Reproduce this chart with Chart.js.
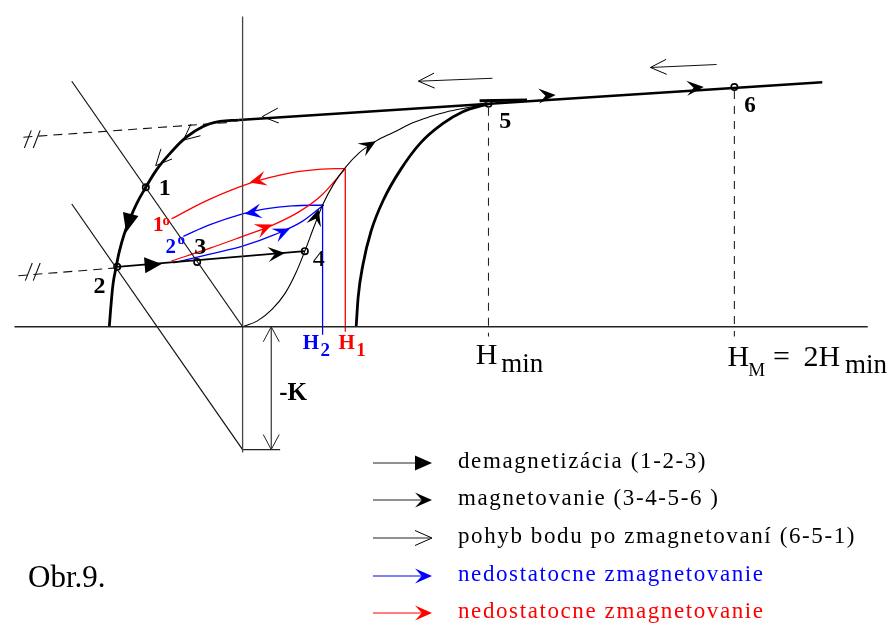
<!DOCTYPE html>
<html>
<head>
<meta charset="utf-8">
<script src="https://cdn.jsdelivr.net/npm/chart.js@4.4.1/dist/chart.umd.min.js"></script>
<style>
  body { margin: 0; background: #fff; }
  canvas { display: block; }
</style>
</head>
<body>
<canvas id="obr9" width="896" height="628"></canvas>
<script>
// H (x) a B (y), pociatok v priesecniku osi
const osH = [[-231, 0], [633, 0]];
const osB = [[0, 316], [0, -128]];
const pataK = [[0, -125], [38, -125]];
const kotaK = [[29, 0], [29, -125]];

const priamka1 = [[-173, 250], [0, 0]];
const priamka2 = [[-173, 125], [0, -125]];

const hornaCiarkovana = [[-222, 193], [-14, 208]];
const dolnaCiarkovana = [[-227, 52], [-127, 60]];
const lomitka = [
  [[-221, 182], [-214, 200]], [[-212, 182], [-205, 200]],
  [[-220, 47], [-213, 65]], [[-212, 47], [-205, 65]]
];

// hlavna slucka
const hornaVetva = [[-4, 210.5], [587, 249]];
const lavaVetva = [[-4, 210.5], [-23, 209], [-40, 204], [-57, 193], [-73, 177], [-87, 160], [-98, 142],
  [-107, 126], [-114, 110], [-120, 94], [-125, 76], [-128, 61], [-131, 45], [-133, 25], [-135, 0]];
const pravaVetva = [[115, 0], [117, 30], [122, 64], [130, 97], [143, 130], [160, 160], [180, 187],
  [203, 207], [223, 219], [249, 227]];
const usek5 = [[240, 230], [288, 231]];

// krivka prvotnej magnetizacie
const panenska = [[0, 0], [15, 6], [30, 18], [43, 34], [54, 55], [63, 77], [72, 101], [81, 124], [92, 145],
  [104, 162], [118, 177], [135, 189], [153, 198], [173, 208], [190, 214], [207, 219], [227, 223], [249, 227]];

const navrat24 = [[-127, 61], [63, 77]];

const cervenaHore = [[104, 161], [80, 160.5], [50, 157], [10, 147], [-33, 130], [-72, 110]];
const cervenaDole = [[-72, 67], [-33, 80], [0, 92], [27, 102], [57, 117], [80, 134], [104, 161]];
const cervenaH1 = [[104, 161], [104, -5]];
const modraHore = [[82, 124], [50, 123], [23, 120], [0, 115], [-33, 104], [-60, 92]];
const modraDole = [[-70, 65], [-33, 74], [0, 82], [33, 94], [60, 107], [82, 124]];
const modraH2 = [[81, 124], [81, -8]];

const ciaraHmin = [[249, 223], [249, -10]];
const ciaraHM = [[498, 240], [498, -10]];

const sipkaVolna1 = [[253, 253], [178, 250]];
const sipkaVolna2 = [[480, 267], [413, 264]];

// body 1..6
const body = [[-98, 142], [-127, 61], [-46, 66], [63, 77], [249, 227], [498, 244]];

// sipky: [x, y, smer x, smer y]
const sipkyPlne = [[-82, 64, 1, 0.08], [-118, 96, -0.25, -1]];
const sipkyHrot = [[43, 75, 1, 0.08], [135, 189, 1, 0.6], [77, 120, 0.3, 1], [317, 236, 1, 0.065], [467, 244, 1, 0.065]];
const sipkyOtvorene = [[-60, 190, -1.2, -1], [-88, 164, -1, -1.1], [20, 214, -1, -0.065], [178, 250, -1, -0.04], [413, 264, -1, -0.04]];
const sipkyCervene = [[7, 147, -1, -0.25], [30, 104, 1, 0.42]];
const sipkyModre = [[2, 115, -1, -0.18], [48, 100, 1, 0.45]];

const legendaTexty = ['demagnetizácia (1-2-3)', 'magnetovanie (3-4-5-6 )', 'pohyb bodu po zmagnetovaní (6-5-1)',
  'nedostatocne zmagnetovanie', 'nedostatocne zmagnetovanie'];
const legendaFarby = ['#000', '#000', '#000', '#0000ff', '#ff0000'];
const legendaSipky = ['plna', 'hrot', 'otvorena', 'hrot', 'hrot'];

const serif = '"Liberation Serif", "Times New Roman", serif';

function ciara(body, farba, hrubka, extra) {
  return Object.assign({
    type: 'scatter',
    data: body.map(p => ({ x: p[0], y: p[1] })),
    showLine: true,
    borderColor: farba,
    borderWidth: hrubka,
    pointRadius: 0,
    fill: false
  }, extra || {});
}

function hlavicka(ctx, tx, ty, ux, uy, styl, farba, dlzka, polka) {
  const nx = -uy, ny = ux;
  const bx = tx - ux * dlzka, by = ty - uy * dlzka;
  ctx.save();
  ctx.fillStyle = farba;
  ctx.strokeStyle = farba;
  ctx.beginPath();
  if (styl === 'plna') {
    ctx.moveTo(tx, ty);
    ctx.lineTo(bx + nx * polka, by + ny * polka);
    ctx.lineTo(bx - nx * polka, by - ny * polka);
    ctx.closePath();
    ctx.fill();
  } else if (styl === 'hrot') {
    const mx = tx - ux * dlzka * 0.6, my = ty - uy * dlzka * 0.6;
    ctx.moveTo(tx, ty);
    ctx.lineTo(bx + nx * polka, by + ny * polka);
    ctx.lineTo(mx, my);
    ctx.lineTo(bx - nx * polka, by - ny * polka);
    ctx.closePath();
    ctx.fill();
  } else {
    ctx.lineWidth = 1;
    ctx.moveTo(bx + nx * polka, by + ny * polka);
    ctx.lineTo(tx, ty);
    ctx.lineTo(bx - nx * polka, by - ny * polka);
    ctx.stroke();
  }
  ctx.restore();
}

const kresba = {
  id: 'kresba',
  afterDatasetsDraw(chart) {
    const ctx = chart.ctx;
    const sx = chart.scales.x, sy = chart.scales.y;
    const px = v => sx.getPixelForValue(v);
    const py = v => sy.getPixelForValue(v);

    function sipka(s, styl, farba, dlzka, polka) {
      const tx = px(s[0]), ty = py(s[1]);
      let ux = px(s[0] + s[2]) - tx, uy = py(s[1] + s[3]) - ty;
      const d = Math.hypot(ux, uy);
      hlavicka(ctx, tx, ty, ux / d, uy / d, styl, farba, dlzka, polka);
    }
    sipkyPlne.forEach((s, i) => sipka(s, 'plna', '#000', i === 0 ? 17 : 19, 8));
    sipkyHrot.forEach(s => sipka(s, 'hrot', '#000', 17, 7.5));
    sipkyOtvorene.forEach(s => sipka(s, 'otvorena', '#000', 16, 7.5));
    sipkyCervene.forEach(s => sipka(s, 'hrot', '#ff0000', 17, 7.5));
    sipkyModre.forEach(s => sipka(s, 'hrot', '#0000ff', 17, 7.5));
    // kota -K
    sipka([kotaK[0][0], kotaK[0][1], 0, 1], 'otvorena', '#222', 15, 8);
    sipka([kotaK[1][0], kotaK[1][1], 0, -1], 'otvorena', '#222', 15, 8);

    function text(t, x, y, font, farba) {
      ctx.save();
      ctx.font = font;
      ctx.fillStyle = farba || '#000';
      ctx.textAlign = 'left';
      ctx.textBaseline = 'alphabetic';
      ctx.fillText(t, px(x), py(y));
      ctx.restore();
    }
    const tucne = 'bold 24px ' + serif;
    text('1', -85, 134, tucne);
    text('2', -151, 34, tucne);
    text('3', -49, 74, tucne);
    text('4', 71, 62, '24px ' + serif);
    text('5', 260, 202, tucne);
    text('6', 508, 219, 'bold 23px ' + serif);
    text('1', -91, 97, 'bold 22px ' + serif, '#ff0000');
    text('o', -81, 104, 'bold 15px ' + serif, '#ff0000');
    text('2', -78, 75, 'bold 21px ' + serif, '#0000ff');
    text('o', -66, 84, 'bold 15px ' + serif, '#0000ff');
    text('H', 61, -23, 'bold 21px ' + serif, '#0000ff');
    text('2', 79, -30, 'bold 19px ' + serif, '#0000ff');
    text('H', 97, -23, 'bold 21px ' + serif, '#ff0000');
    text('1', 115, -30, 'bold 19px ' + serif, '#ff0000');
    text('-K', 37, -75, 'bold 25px ' + serif);
    text('H', 236, -38, '30px ' + serif);
    text('min', 262, -46, '27px ' + serif);
    text('H', 491, -40, '30px ' + serif);
    text('M', 512, -50, '19px ' + serif);
    text('=', 537, -40, '30px ' + serif);
    text('2H', 568, -40, '30px ' + serif);
    text('min', 610, -47, '27px ' + serif);

    // legenda a popis obrazka
    const riadky = [463, 500, 538, 576, 613];
    legendaTexty.forEach((t, i) => {
      const y = riadky[i];
      ctx.save();
      ctx.strokeStyle = legendaFarby[i] === '#000' ? '#222' : legendaFarby[i];
      ctx.lineWidth = 1.2;
      ctx.beginPath();
      ctx.moveTo(373, y);
      ctx.lineTo(430, y);
      ctx.stroke();
      ctx.restore();
      hlavicka(ctx, 432, y, 1, 0, legendaSipky[i], legendaFarby[i], 17, 7.5);
      ctx.save();
      ctx.font = '23px ' + serif;
      ctx.fillStyle = legendaFarby[i];
      ctx.translate(458, y + 5);
      if ('letterSpacing' in ctx) {
        ctx.letterSpacing = '1.6px';
      } else {
        ctx.scale(1.17, 1);
      }
      ctx.fillText(t, 0, 0);
      ctx.restore();
    });
    ctx.save();
    ctx.font = '31px ' + serif;
    ctx.fillStyle = '#000';
    ctx.fillText('Obr.9.', 28, 587);
    ctx.restore();
  }
};

const ciarkovana = { borderDash: [9, 6] };
const hladka = { tension: 0.4 };
const monotonna = { cubicInterpolationMode: 'monotone' };

const datasets = [
  ciara(osH, '#222', 1.3),
  ciara(osB, '#444', 1.3),
  ciara(pataK, '#222', 1.3),
  ciara(kotaK, '#222', 1.1),
  ciara(priamka1, '#111', 1.2),
  ciara(priamka2, '#111', 1.2),
  ciara(hornaCiarkovana, '#111', 1.1, ciarkovana),
  ciara(dolnaCiarkovana, '#111', 1.1, ciarkovana),
  ...lomitka.map(l => ciara(l, '#111', 1.1)),
  ciara(ciaraHmin, '#222', 1.1, { borderDash: [8, 7] }),
  ciara(ciaraHM, '#222', 1.1, { borderDash: [8, 7] }),
  ciara(hornaVetva, '#000', 2.6),
  ciara(lavaVetva, '#000', 2.8, hladka),
  ciara(pravaVetva, '#000', 2.8, monotonna),
  ciara(usek5, '#000', 3),
  ciara(panenska, '#000', 1.1, monotonna),
  ciara(navrat24, '#000', 1.8),
  ciara(cervenaHore, '#ff0000', 1.3, hladka),
  ciara(cervenaDole, '#ff0000', 1.3, monotonna),
  ciara(cervenaH1, '#ff0000', 1.3),
  ciara(modraHore, '#0000ff', 1.3, hladka),
  ciara(modraDole, '#0000ff', 1.3, monotonna),
  ciara(modraH2, '#0000ff', 1.3),
  ciara(sipkaVolna1, '#111', 1),
  ciara(sipkaVolna2, '#111', 1),
  {
    type: 'scatter',
    data: body.map(p => ({ x: p[0], y: p[1] })),
    showLine: false,
    pointRadius: 3.2,
    pointBackgroundColor: '#fff',
    pointBorderColor: '#000',
    pointBorderWidth: 1.6
  }
];

new Chart(document.getElementById('obr9'), {
  type: 'scatter',
  data: { datasets: datasets },
  options: {
    responsive: false,
    animation: false,
    layout: { padding: 0 },
    plugins: { legend: { display: false }, tooltip: { enabled: false } },
    scales: {
      x: { type: 'linear', display: false, min: -240, max: 656 },
      y: { type: 'linear', display: false, min: -301, max: 327 }
    }
  },
  plugins: [kresba]
});
</script>
</body>
</html>
